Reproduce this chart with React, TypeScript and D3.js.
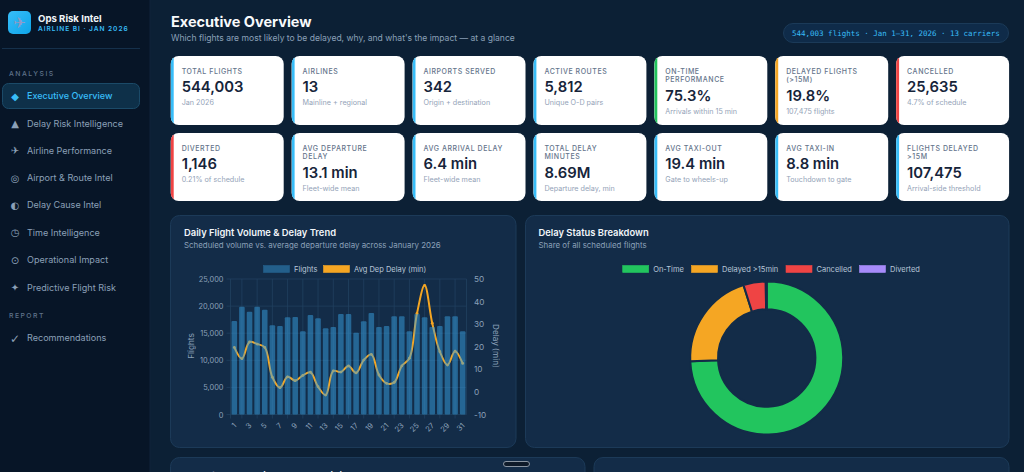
import React from "react";
import * as d3 from "d3";

const days = d3.range(1, 32);
const flights = [17250,19900,18970,19900,19340,16450,16330,17930,17990,15350,18360,17750,15900,16140,18540,18540,15100,17200,18720,16140,16330,18120,18120,15350,18540,17930,16140,16330,18120,18120,15350];
const avgDelay = [19.7,14.7,22.1,21.2,19.7,6.5,1.9,6.7,5.0,7.3,8.7,2.3,-1.4,9.3,8.8,11.5,8.4,14.1,16.6,7.5,3.8,4.2,11.5,14.9,34.8,47.2,30.4,17.8,11.9,18,12.6];
const leftTicks = [0,5000,10000,15000,20000,25000];
const rightTicks = [-10,0,10,20,30,40,50];

const statusNames = ["On-Time","Delayed >15min","Cancelled","Diverted"];
const statusShares = [74.3,20.8,4.7,0.2];
const statusColors = ["#22c55e","#f5a623","#ef4444","#a78bfa"];

const BLUE = "#38bdf8", GREEN = "#22c55e", AMBER = "#f5a623", RED = "#ef4444";
const kpiRow1 = [
  { label: ["TOTAL FLIGHTS"], value: "544,003", sub: "Jan 2026", color: BLUE },
  { label: ["AIRLINES"], value: "13", sub: "Mainline + regional", color: BLUE },
  { label: ["AIRPORTS SERVED"], value: "342", sub: "Origin + destination", color: BLUE },
  { label: ["ACTIVE ROUTES"], value: "5,812", sub: "Unique O-D pairs", color: BLUE },
  { label: ["ON-TIME","PERFORMANCE"], value: "75.3%", sub: "Arrivals within 15 min", color: GREEN },
  { label: ["DELAYED FLIGHTS","(>15M)"], value: "19.8%", sub: "107,475 flights", color: AMBER },
  { label: ["CANCELLED"], value: "25,635", sub: "4.7% of schedule", color: RED },
];
const kpiRow2 = [
  { label: ["DIVERTED"], value: "1,146", sub: "0.21% of schedule", color: RED },
  { label: ["AVG DEPARTURE","DELAY"], value: "13.1 min", sub: "Fleet-wide mean", color: BLUE },
  { label: ["AVG ARRIVAL DELAY"], value: "6.4 min", sub: "Fleet-wide mean", color: BLUE },
  { label: ["TOTAL DELAY","MINUTES"], value: "8.69M", sub: "Departure delay, min", color: BLUE },
  { label: ["AVG TAXI-OUT"], value: "19.4 min", sub: "Gate to wheels-up", color: BLUE },
  { label: ["AVG TAXI-IN"], value: "8.8 min", sub: "Touchdown to gate", color: BLUE },
  { label: ["FLIGHTS DELAYED",">15M"], value: "107,475", sub: "Arrival-side threshold", color: BLUE },
];
const navAnalysis = [
  { icon: "◆", text: "Executive Overview" },
  { icon: "▲", text: "Delay Risk Intelligence" },
  { icon: "✈", text: "Airline Performance" },
  { icon: "◎", text: "Airport & Route Intel" },
  { icon: "◐", text: "Delay Cause Intel" },
  { icon: "◷", text: "Time Intelligence" },
  { icon: "⊙", text: "Operational Impact" },
  { icon: "✦", text: "Predictive Flight Risk" },
];

const SANS = "Inter, 'Noto Sans', sans-serif";
const HEAD = "Inter, 'Open Sans', sans-serif";
const MONO = "'DejaVu Sans Mono', monospace";
const SYM = "'DejaVu Sans', sans-serif";
const PANEL = "#132c48", EDGE = "#1c3a58", TICK = "#8ba0b8", GRID = "#21405f";

function KpiCard({ k, x, y, h }: any) {
  const w = 113, px = x + 11, two = k.label.length > 1;
  const shift = two ? 8.8 : 0;
  return (
    <g>
      <clipPath id={`c${x}${y}`}><rect x={x} y={y} width={w} height={h} rx={8} /></clipPath>
      <rect x={x} y={y} width={w} height={h} rx={8} fill="#ffffff" />
      <rect x={x} y={y} width={3} height={h} fill={k.color} clipPath={`url(#c${x}${y})`} />
      {k.label.map((l: string, i: number) => (
        <text key={l} x={px} y={y + 17.5 + i * 8.8} fontFamily={SANS} fontSize={7} fontWeight={500} letterSpacing={0.55} fill="#64748b">{l}</text>
      ))}
      <text x={px} y={y + 36.3 + shift} fontFamily={HEAD} fontSize={14.8} fontWeight={600} fill="#16243a">{k.value}</text>
      <text x={px} y={y + 49 + shift} fontFamily={SANS} fontSize={7.2} fill="#94a3b8">{k.sub}</text>
    </g>
  );
}

function Legend({ items, y }: any) {
  return (
    <g>
      {items.map((it: any) => (
        <g key={it.name}>
          <rect x={it.x} y={y - 3.5} width={26} height={7} fill={it.color} stroke={it.stroke ?? it.color} strokeWidth={0.6} />
          <text x={it.x + 30.5} y={y + 3} fontFamily={SANS} fontSize={7.5} fill="#b9c7d8">{it.name}</text>
        </g>
      ))}
    </g>
  );
}

function TrendChart() {
  const left = 230.5, right = 466.5, top = 279, bottom = 414.5;
  const x = d3.scaleBand<number>().domain(days).range([left, right]).paddingInner(0.27).paddingOuter(0.135);
  const yL = d3.scaleLinear().domain([0, 25000]).range([bottom, top]);
  const yR = d3.scaleLinear().domain([-10, 50]).range([bottom, top]);
  const cx = (d: number) => x(d)! + x.bandwidth() / 2;
  const line = d3.line<number>().x((_, i) => cx(days[i])).y((v) => yR(v)).curve(d3.curveCatmullRom.alpha(0.5));
  return (
    <g>
      {leftTicks.map((t) => (
        <g key={t}>
          <line x1={left - 4} x2={right} y1={yL(t)} y2={yL(t)} stroke={GRID} strokeWidth={0.8} />
          <text x={left - 7} y={yL(t) + 3} textAnchor="end" fontFamily={SANS} fontSize={7.4} fill={TICK}>{d3.format(",")(t)}</text>
        </g>
      ))}
      {rightTicks.map((t) => (
        <text key={t} x={right + 7.5} y={yR(t) + 3} fontFamily={SANS} fontSize={8.2} fill={TICK}>{t}</text>
      ))}
      <line x1={left} x2={left} y1={top} y2={bottom + 4} stroke={GRID} strokeWidth={0.8} />
      <line x1={right} x2={right} y1={top} y2={bottom} stroke={GRID} strokeWidth={0.8} />
      {days.filter((d) => d % 2 === 0).map((d) => (
        <line key={d} x1={cx(d)} x2={cx(d)} y1={top} y2={bottom + 4} stroke={GRID} strokeWidth={0.8} />
      ))}
      <path d={line(avgDelay) ?? ""} fill="none" stroke={AMBER} strokeWidth={2} />
      {avgDelay.map((v, i) => <circle key={i} cx={cx(days[i])} cy={yR(v)} r={1.4} fill={AMBER} />)}
      {flights.map((v, i) => (
        <rect key={i} x={x(days[i])} y={yL(v)} width={x.bandwidth()} height={bottom - yL(v)} rx={1} fill="#38a0e0" fillOpacity={0.5} />
      ))}
      {days.filter((d) => d % 2 === 1).map((d) => (
        <text key={d} transform={`translate(${cx(d) - 1},${bottom + 8}) rotate(-45)`} textAnchor="end" dy={5} fontFamily={SANS} fontSize={7.5} fill={TICK}>{d}</text>
      ))}
      <text transform="translate(194,346) rotate(-90)" textAnchor="middle" fontFamily={SANS} fontSize={8.2} fill={TICK}>Flights</text>
      <text transform="translate(493,346) rotate(90)" textAnchor="middle" fontFamily={SANS} fontSize={8.2} fill={TICK}>Delay (min)</text>
      <Legend y={269} items={[
        { name: "Flights", x: 263.5, color: "#235f8b" },
        { name: "Avg Dep Delay (min)", x: 323.5, color: AMBER },
      ]} />
    </g>
  );
}

function StatusDonut() {
  const cx = 766.7, cy = 358;
  const pie = d3.pie<number>().sort(null)(statusShares);
  const arc = d3.arc<d3.PieArcDatum<number>>().innerRadius(48.7).outerRadius(76.5);
  const legendX = [622.7, 691.5, 786, 859.5];
  return (
    <g>
      <Legend y={269} items={statusNames.map((name, i) => ({ name, x: legendX[i], color: statusColors[i] }))} />
      <g transform={`translate(${cx},${cy})`}>
        {pie.map((p, i) => <path key={i} d={arc(p) ?? ""} fill={statusColors[i]} stroke={PANEL} strokeWidth={2} />)}
      </g>
    </g>
  );
}

export default function App() {
  const cardX = (i: number) => 170.7 + i * 120.9;
  return (
    <svg width={1024} height={472} viewBox="0 0 1024 472" style={{ position: "fixed", left: 0, top: 0, display: "block" }}>
      <defs>
        <linearGradient id="logo" x1="0" y1="0" x2="1" y2="1">
          <stop offset="0" stopColor="#38bdf8" /><stop offset="1" stopColor="#0ea5e9" />
        </linearGradient>
      </defs>
      <rect width={1024} height={472} fill="#0c2035" />
      <rect width={150} height={472} fill="#071527" />
      <line x1={150} x2={150} y1={0} y2={472} stroke="#10233a" />

      <rect x={8} y={11} width={23} height={23} rx={5} fill="url(#logo)" />
      <text x={19.5} y={28} textAnchor="middle" fontFamily={SYM} fontSize={15} fill="#8e9bc8">✈</text>
      <text x={38} y={21.5} fontFamily={HEAD} fontSize={9.6} fontWeight={700} fill="#f1f5f9">Ops Risk Intel</text>
      <text x={38} y={30.5} fontFamily={SANS} fontSize={6.6} fontWeight={600} letterSpacing={0.95} fill={BLUE}>AIRLINE BI · JAN 2026</text>
      <line x1={2} x2={140} y1={48.5} y2={48.5} stroke="#15304b" />
      <text x={9} y={76} fontFamily={SANS} fontSize={6.8} fontWeight={500} letterSpacing={1.5} fill="#5f738a">ANALYSIS</text>
      <rect x={2.5} y={83.5} width={137} height={25} rx={6} fill="#0e3049" stroke="#1b4a68" />
      {navAnalysis.map((n, i) => {
        const y = [96, 123.5, 150.5, 178, 205, 232.5, 260, 287.5][i];
        const active = i === 0;
        return (
          <g key={n.text}>
            <text x={15} y={y + 3.5} textAnchor="middle" fontFamily={SYM} fontSize={10} fill={active ? BLUE : "#8ba0b8"}>{n.icon}</text>
            <text x={27} y={y + 3.3} fontFamily={SANS} fontSize={9.05} fontWeight={active ? 500 : 400} fill={active ? BLUE : "#8ba0b8"}>{n.text}</text>
          </g>
        );
      })}
      <text x={9} y={318} fontFamily={SANS} fontSize={6.8} fontWeight={500} letterSpacing={1.5} fill="#5f738a">REPORT</text>
      <text x={15} y={342.5} textAnchor="middle" fontFamily={SYM} fontSize={12} fill="#8ba0b8">✓</text>
      <text x={27} y={341.3} fontFamily={SANS} fontSize={9.05} fill="#8ba0b8">Recommendations</text>

      <text x={171} y={26.5} fontFamily={HEAD} fontSize={14.5} fontWeight={700} fill="#f8fafc">Executive Overview</text>
      <text x={171} y={40.8} fontFamily={SANS} fontSize={8.57} fill="#8ba0b8">Which flights are most likely to be delayed, why, and what's the impact — at a glance</text>
      <rect x={783.5} y={23.5} width={225} height={19} rx={9.5} fill="#0f2b49" stroke="#1b3a58" />
      <text x={792} y={35.8} fontFamily={MONO} fontSize={7.5} fill={BLUE}>544,003 flights · Jan 1–31, 2026 · 13 carriers</text>

      {kpiRow1.map((k, i) => <KpiCard key={k.label[0]} k={k} x={cardX(i)} y={56} h={69} />)}
      {kpiRow2.map((k, i) => <KpiCard key={k.label[0]} k={k} x={cardX(i)} y={133} h={68} />)}

      <rect x={170.5} y={215.5} width={345.5} height={232} rx={9} fill={PANEL} stroke={EDGE} />
      <rect x={525.5} y={215.5} width={483.5} height={232} rx={9} fill={PANEL} stroke={EDGE} />
      <text x={184} y={236} fontFamily={HEAD} fontSize={9.4} fontWeight={600} fill="#f1f5f9">Daily Flight Volume &amp; Delay Trend</text>
      <text x={184} y={248.3} fontFamily={SANS} fontSize={7.9} fill={TICK}>Scheduled volume vs. average departure delay across January 2026</text>
      <text x={538.5} y={236} fontFamily={HEAD} fontSize={9.4} fontWeight={600} fill="#f1f5f9">Delay Status Breakdown</text>
      <text x={538.5} y={248.3} fontFamily={SANS} fontSize={7.9} fill={TICK}>Share of all scheduled flights</text>
      <TrendChart />
      <StatusDonut />

      <rect x={170.5} y={457.5} width={414.5} height={30} rx={9} fill={PANEL} stroke={EDGE} />
      <rect x={594} y={457.5} width={415} height={30} rx={9} fill={PANEL} stroke={EDGE} />
      <text x={184} y={478.5} fontFamily={HEAD} fontSize={9.5} fontWeight={600} fill="#f1f5f9">Departure vs. Arrival Delay by Airline</text>
      <text x={607.5} y={478.5} fontFamily={HEAD} fontSize={9.5} fontWeight={600} fill="#f1f5f9">Delay Cause Breakdown</text>
      <rect x={503.5} y={461.5} width={26} height={5} rx={2.5} fill="#0e1a29" stroke="#8a95a2" />
    </svg>
  );
}
